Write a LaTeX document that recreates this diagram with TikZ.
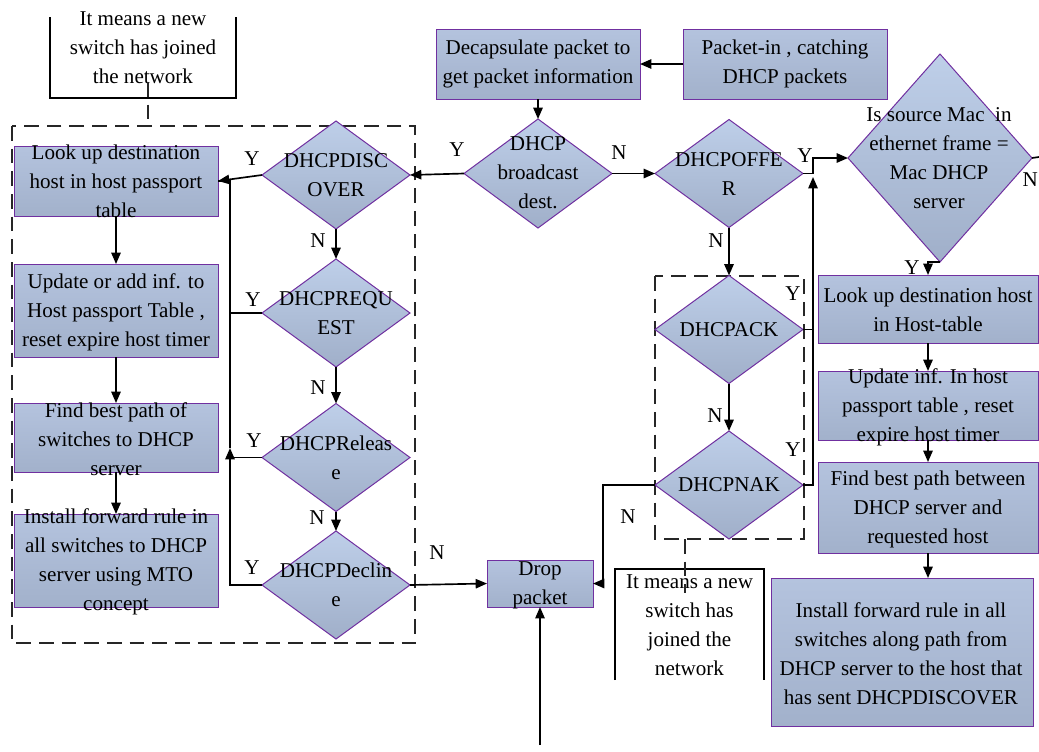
\documentclass[tikz,border=0pt]{standalone}
\usepackage{fontspec}
\setmainfont{Liberation Serif}
\usetikzlibrary{shapes.geometric,arrows.meta}
\definecolor{frame}{HTML}{7030A0}
\definecolor{boxtop}{RGB}{180,195,222}
\definecolor{boxbot}{RGB}{162,177,203}
\definecolor{diatop}{RGB}{190,207,233}
\definecolor{diabot}{RGB}{160,175,201}
\tikzset{
  box/.style={draw=frame, line width=0.75pt, top color=boxtop, bottom color=boxbot, inner sep=0pt, outer sep=0pt, minimum width=153pt, minimum height=52.5pt},
  dia/.style={diamond, draw=frame, line width=0.75pt, top color=diatop, bottom color=diabot, inner sep=0pt, outer sep=0pt, minimum width=111pt, minimum height=81pt},
  txt/.style={align=center, inner sep=0pt},
  lab/.style={inner sep=0pt},
  ln/.style={line width=1.25pt},
  arr/.style={line width=1.25pt, -{Triangle[length=8.5pt,width=7pt]}},
  grp/.style={line width=1.1pt, dash pattern=on 11pt off 6pt, draw=black!85},
  notebox/.style={line width=0.8pt}
}
\begin{document}
\begin{tikzpicture}[x=0.75pt,y=-0.75pt, font=\fontsize{15.8pt}{21.75pt}\selectfont]
\useasboundingbox (0,0) rectangle (1039,751);

% group frames
\draw[grp] (12,126) rectangle (415,643);
\draw[grp] (655,276) rectangle (804,539);

% notes
\draw[notebox] (50,17) -- (50,98) -- (236,98) -- (236,17);
\node[txt] (note1) at (143,48) {It means a new\\switch has joined\\the network};
\draw[notebox] (615,680) -- (615,569) -- (764,569) -- (764,680);
\node[txt] (note2) at (689.5,625.5) {It means a new\\switch has\\joined the\\network};

% top boxes
\node[box] (dec) at (538,64) {};
\node[txt] (dect) at (dec) {Decapsulate packet to\\get packet information};
\node[box] (pin) at (785,64) {};
\node[txt] (pint) at (pin) {Packet-in , catching\\DHCP packets};

% central diamonds
\node[dia, minimum height=81.75pt] (bc) at (538,173.5) {};
\node[txt] (bct) at (538,172.5) {DHCP\\broadcast\\dest.};
\node[dia] (offer) at (729,173.5) {};
\node[txt] (offert) at (729,174.5) {DHCPOFFE\\R};
\node[dia] (ack) at (729,329.5) {};
\node[txt] (ackt) at (ack) {DHCPACK};
\node[dia] (nak) at (729,485) {};
\node[txt] (nakt) at (nak) {DHCPNAK};

% left diamonds
\node[dia] (disc) at (336,175) {};
\node[txt] (disct) at (336,175) {DHCPDISC\\OVER};
\node[dia] (req) at (336,313) {};
\node[txt] (reqt) at (336,313) {DHCPREQU\\EST};
\node[dia] (rel) at (336,457.5) {};
\node[txt] (relt) at (336,457.5) {DHCPReleas\\e};
\node[dia] (decl) at (336,585) {};
\node[txt] (declt) at (336,585) {DHCPDeclin\\e};

% left boxes
\node[box] (b1) at (116,181) {};
\node[txt] (b1t) at (116,181) {Look up destination\\host in host passport\\table};
\node[box, minimum height=69.75pt] (b2) at (116,310.5) {};
\node[txt] (b2t) at (116,312) {Update or add inf. to\\Host passport Table ,\\reset expire host timer};
\node[box, minimum height=51.75pt] (b3) at (116,437.5) {};
\node[txt] (b3t) at (116,439) {Find best path of\\switches to DHCP\\server};
\node[box, minimum height=69.75pt] (b4) at (116,560.5) {};
\node[txt] (b4t) at (116,561.5) {Install forward rule in\\all switches to DHCP\\server using MTO\\concept};

% drop
\node[box, minimum width=79.5pt, minimum height=35.25pt] (drop) at (540,583.5) {};
\node[txt] (dropt) at (540,585) {Drop\\packet};

% right column
\node[dia, minimum width=138pt, minimum height=156pt] (mac) at (940,158) {};
\node[txt] (mact) at (939,158.5) {Is source Mac\ \ in\\ethernet frame =\\Mac DHCP\\server};
\node[box, minimum width=165pt, minimum height=51pt] (lk) at (928,309) {};
\node[txt] (lkt) at (928,310) {Look up destination host\\in Host-table};
\node[box, minimum width=165pt, minimum height=51.75pt] (upd) at (928,405.5) {};
\node[txt] (updt) at (928,407) {Update inf. In host\\passport table , reset\\expire host timer};
\node[box, minimum width=165pt, minimum height=68.25pt] (fbp) at (928,507.5) {};
\node[txt] (fbpt) at (928,509) {Find best path between\\DHCP server and\\requested host};
\node[box, minimum width=196.5pt, minimum height=111pt] (inst) at (902,652) {};
\node[txt] (instt) at (901,654) {Install forward rule in all\\switches along path from\\DHCP server to the host that\\has sent DHCPDISCOVER};

% coordinates
\coordinate (cx) at (230,181);
\coordinate (cup) at (230,448);
\coordinate (j1) at (813,173.5);
\coordinate (j2) at (813,177);
\coordinate (k1) at (603,485);
\coordinate (src) at (540,745);
\coordinate (mr) at (1039,157);

% connectors
\draw[arr] (pin.west) -- (dec.east);
\draw[arr] (dec.south) -- (bc.north);
\draw[arr] (bc.west) -- (disc.east);
\draw[arr] (bc.east) -- (offer.west);
\draw[arr] (disc.west) -- (b1.east);
\draw[arr] (disc.south) -- (req.north);
\draw[arr] (req.south) -- (rel.north);
\draw[arr] (rel.south) -- (decl.north);
\draw[arr] (b1.south) -- (b2.north);
\draw[arr] (b2.south) -- (b3.north);
\draw[arr] (b3.south) -- (b4.north);
\draw[arr] (decl.west) -| (cup);
\draw[ln] (cup) -- (cx) -- (b1.east);
\draw[ln] (req.west) -- (req.west -| cx);
\draw[ln] (rel.west) -- (rel.west -| cx);
\draw[arr] (decl.east) -- (drop.west);
\draw[arr] (offer.east) -- (j1) |- (mac.west);
\draw[arr] (offer.south) -- (ack.north);
\draw[arr] (ack.south) -- (nak.north);
\draw[ln] (ack.east) -- (ack.east -| j1);
\draw[arr] (nak.east) -| (j2);
\draw[arr] (nak.west) -- (k1) |- (drop.east);
\draw[arr] (src) -- (drop.south);
\draw[ln] (mac.east) -- (mr);
\draw[arr] (mac.south) -| (lk.north);
\draw[arr] (lk.south) -- (upd.north);
\draw[arr] (upd.south) -- (fbp.north);
\draw[arr] (fbp.south) -- (fbp.south |- inst.north);

% dashed note links
\draw[grp] (148,82) -- (148,126);
\draw[grp] (685,539) -- (685,593);

% labels
\node[lab] (y1) at (252,159) {Y};
\node[lab] (n1) at (318,241) {N};
\node[lab] (y2) at (253,300) {Y};
\node[lab] (n2) at (318,388) {N};
\node[lab] (y3) at (254,441) {Y};
\node[lab] (n3) at (317,518) {N};
\node[lab] (y4) at (252,568) {Y};
\node[lab] (y5) at (457,150) {Y};
\node[lab] (n5) at (619,153) {N};
\node[lab] (y6) at (805,156) {Y};
\node[lab] (n6) at (716,241) {N};
\node[lab] (y7) at (793,294) {Y};
\node[lab] (n7) at (715,416) {N};
\node[lab] (y8) at (793,450) {Y};
\node[lab] (n8) at (628,517) {N};
\node[lab] (n9) at (437,553) {N};
\node[lab] (y9) at (912,268) {Y};
\node[lab, anchor=east] (n10) at (1038,180) {N};
\end{tikzpicture}
\end{document}
